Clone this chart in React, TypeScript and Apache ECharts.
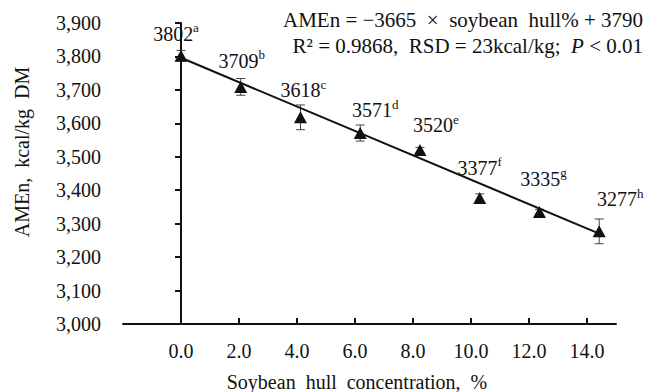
import React, { useEffect, useRef } from "react";
import * as echarts from "echarts";

const hullLevels = [0, 2.06, 4.12, 6.18, 8.24, 10.3, 12.36, 14.42];
const amen = [3802, 3709, 3618, 3571, 3520, 3377, 3335, 3277];
const sdValues = [16, 25, 37, 24, 8, 12, 8, 37];
const letters = ["a", "b", "c", "d", "e", "f", "g", "h"];
const xTicks = [0, 2, 4, 6, 8, 10, 12, 14];
const trendX = [0, 14.42];
const trendY = [3796, 3270];
const equation1 = "AMEn = \u22123665  \u00d7  soybean  hull% + 3790";
const equation2a = "R\u00b2 = 0.9868,  RSD = 23kcal/kg;  ";
const equation2b = "P";
const equation2c = " < 0.01";
const yTitle = "AMEn,  kcal/kg  DM";
const xTitle = "Soybean  hull  concentration,  %";

const labelOffsets = [
  [-5, -22],
  [1, -26],
  [3, -27],
  [15, -23],
  [16, -25],
  [0, -30],
  [4, -33],
  [21, -32],
];

const FONT = "'Liberation Serif', 'DejaVu Serif', serif";
const INK = "#111";

export default function App() {
  const ref = useRef<HTMLDivElement>(null);
  useEffect(() => {
    document.body.style.margin = "0";
    const chart = echarts.init(ref.current!, null, { renderer: "svg" });
    const option: any = {
      animation: false,
      textStyle: { fontFamily: FONT, color: INK },
      grid: { left: 123, right: 32, top: 23, bottom: 68, containLabel: false },
      xAxis: {
        type: "value",
        min: -2,
        max: 15,
        interval: 2,
        axisLine: { show: true, lineStyle: { color: INK, width: 2 } },
        axisTick: {
          show: true,
          inside: true,
          length: 6,
          lineStyle: { color: INK, width: 2 },
          customValues: xTicks,
        },
        axisLabel: {
          customValues: xTicks,
          formatter: (v: number) => v.toFixed(1),
          fontFamily: FONT,
          fontSize: 20,
          color: INK,
          margin: 17,
        },
        splitLine: { show: false },
      },
      yAxis: {
        type: "value",
        min: 3000,
        max: 3900,
        interval: 100,
        axisLine: { show: true, lineStyle: { color: INK, width: 2 } },
        axisTick: { show: true, length: 6, lineStyle: { color: INK, width: 2 } },
        axisLabel: {
          formatter: (v: number) => v.toLocaleString("en-US"),
          fontFamily: FONT,
          fontSize: 20,
          color: INK,
          margin: 22,
        },
        splitLine: { show: false },
      },
      graphic: [
        {
          type: "text",
          right: 5,
          top: 9,
          style: {
            text: equation1,
            fontFamily: FONT,
            fontSize: 21,
            fill: INK,
            align: "right",
          },
        },
        {
          type: "text",
          right: 5,
          top: 35,
          style: {
            text: `{n|${equation2a}}{i|${equation2b}}{n|${equation2c}}`,
            rich: {
              n: { fontFamily: FONT, fontSize: 21, fill: INK },
              i: { fontFamily: FONT, fontSize: 21, fill: INK, fontStyle: "italic" },
            },
            fontFamily: FONT,
            fontSize: 21,
            fill: INK,
          },
        },
        {
          type: "text",
          x: 22,
          y: 152,
          rotation: Math.PI / 2,
          style: {
            text: yTitle,
            fontFamily: FONT,
            fontSize: 20,
            fill: INK,
            align: "center",
            verticalAlign: "middle",
          },
        },
        {
          type: "text",
          x: 357,
          y: 382,
          style: {
            text: xTitle,
            fontFamily: FONT,
            fontSize: 20,
            fill: INK,
            align: "center",
            verticalAlign: "middle",
          },
        },
      ],
      series: [
        {
          type: "custom",
          z: 1,
          encode: { x: 0, y: [1, 2] },
          data: hullLevels.map((x, i) => [x, amen[i] - sdValues[i], amen[i] + sdValues[i]]),
          renderItem: (params: any, api: any) => {
            const x = api.value(0);
            const lo = api.coord([x, api.value(1)]);
            const hi = api.coord([x, api.value(2)]);
            const w = 4.5;
            const st = { stroke: "#444", lineWidth: 1 };
            return {
              type: "group",
              children: [
                { type: "line", shape: { x1: lo[0], y1: lo[1], x2: hi[0], y2: hi[1] }, style: st },
                { type: "line", shape: { x1: lo[0] - w, y1: lo[1], x2: lo[0] + w, y2: lo[1] }, style: st },
                { type: "line", shape: { x1: hi[0] - w, y1: hi[1], x2: hi[0] + w, y2: hi[1] }, style: st },
              ],
            };
          },
        },
        {
          type: "line",
          z: 2,
          data: trendX.map((x, i) => [x, trendY[i]]),
          showSymbol: false,
          symbol: "none",
          lineStyle: { color: INK, width: 2 },
        },
        {
          type: "scatter",
          z: 3,
          symbol: "triangle",
          symbolSize: [13, 12],
          itemStyle: { color: INK, opacity: 1 },
          data: hullLevels.map((x, i) => ({
            value: [x, amen[i]],
            label: {
              show: true,
              position: "inside",
              offset: labelOffsets[i],
              color: INK,
              textBorderWidth: 0,
              formatter: `{v|${amen[i]}}{s|${letters[i]}}`,
              rich: {
                v: { fontFamily: FONT, fontSize: 20, color: INK, textBorderWidth: 0 },
                s: { fontFamily: FONT, fontSize: 13, color: INK, textBorderWidth: 0, padding: [0, 0, 12, 0] },
              },
            },
          })),
        },
      ],
    };
    chart.setOption(option);
    return () => chart.dispose();
  }, []);
  return <div ref={ref} style={{ width: 648, height: 392 }} />;
}
